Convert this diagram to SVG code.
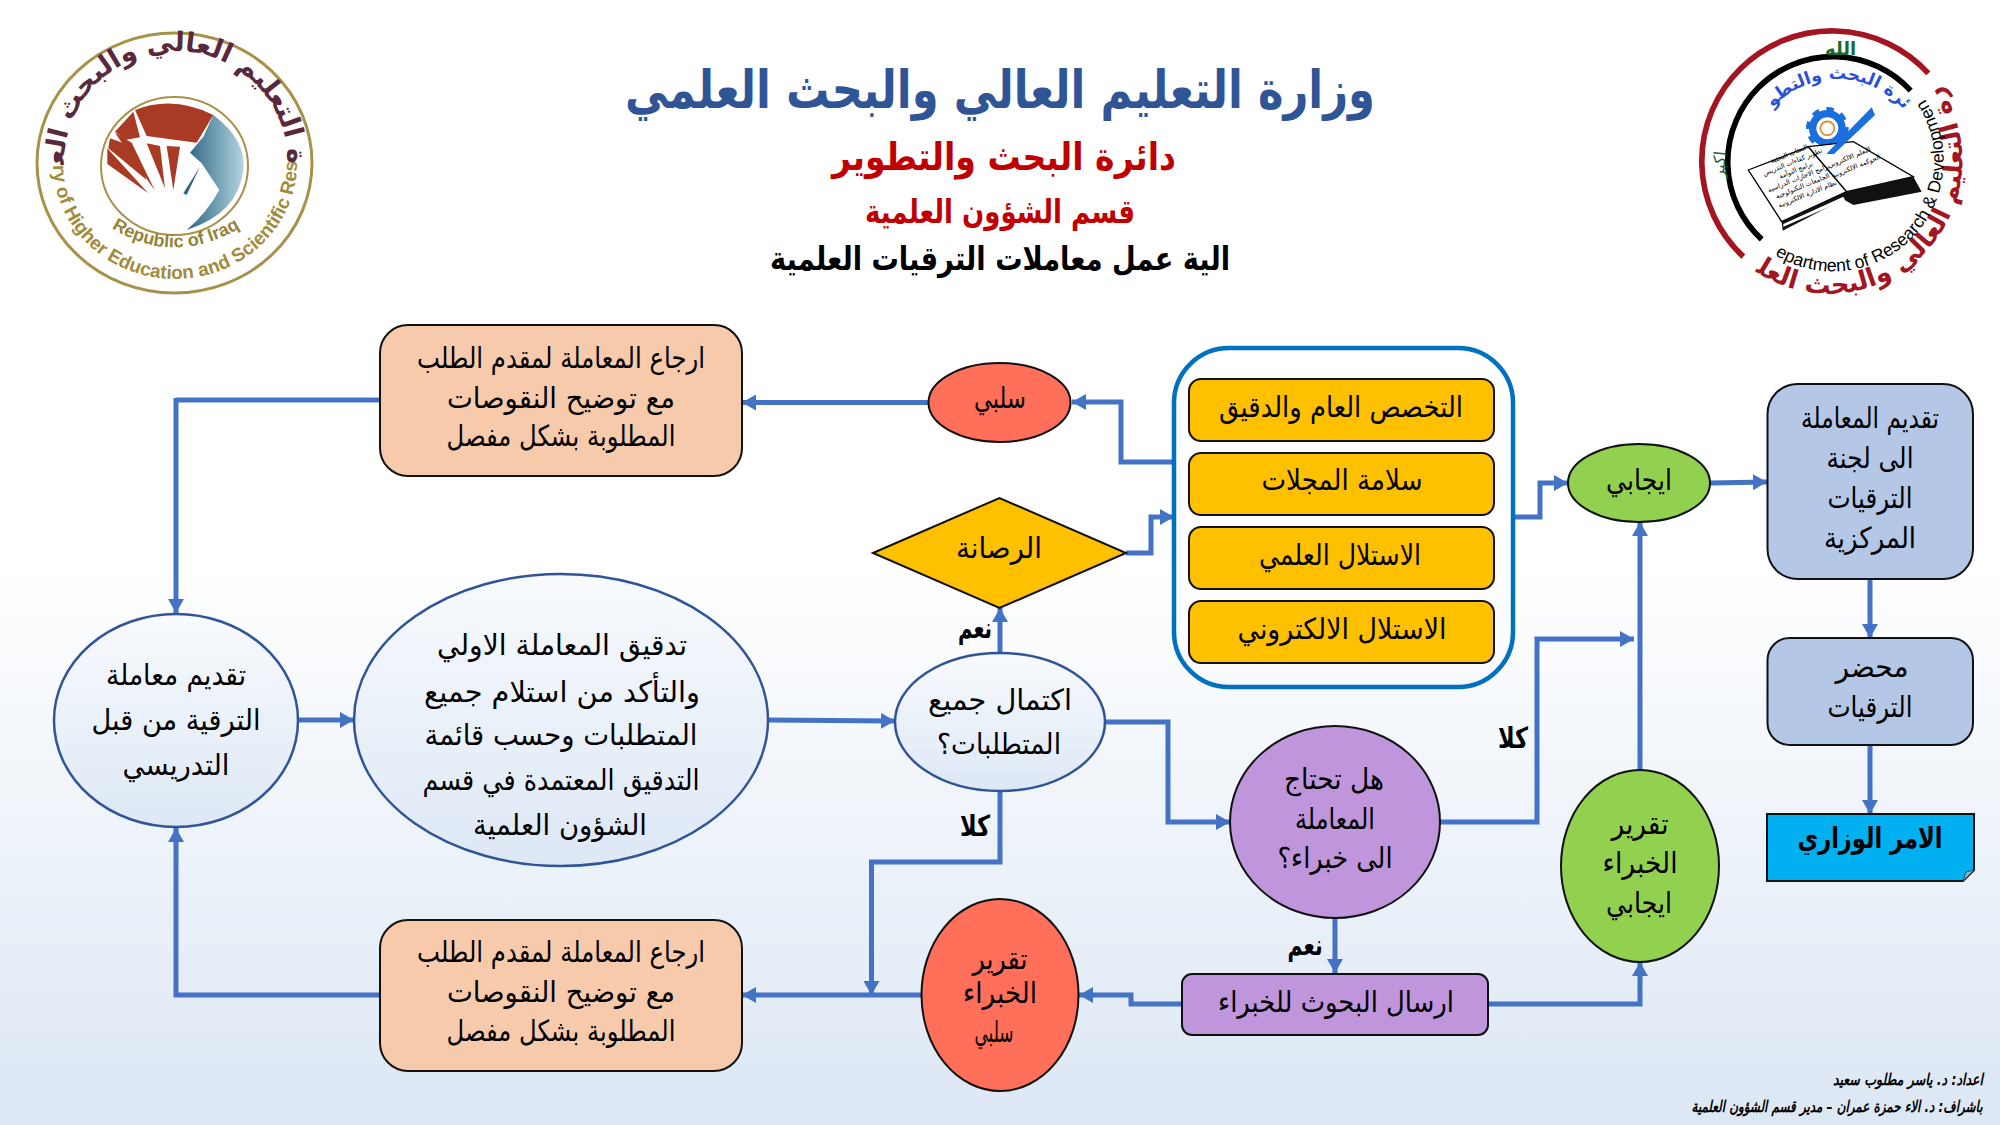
<svg xmlns="http://www.w3.org/2000/svg" width="2000" height="1125" viewBox="0 0 2000 1125">
<defs>
<linearGradient id="bg" x1="0" y1="0" x2="0" y2="1"><stop offset="0" stop-color="#fff"/><stop offset=".5" stop-color="#fff"/><stop offset="1" stop-color="#dce7f4"/></linearGradient>
<linearGradient id="pale" x1="0" y1="0" x2="0" y2="1"><stop offset="0" stop-color="#f8fafd"/><stop offset="1" stop-color="#dde8f5"/></linearGradient>
<linearGradient id="teal" x1="0" y1="0" x2="1" y2="0"><stop offset="0" stop-color="#2c6482"/><stop offset="1" stop-color="#b2d5e0"/></linearGradient>
<marker id="ah" markerUnits="userSpaceOnUse" markerWidth="15" markerHeight="16" refX="14" refY="8" orient="auto"><path d="M0,0L14,8L0,16z" fill="#4472c4"/></marker>
<path id="la1" d="M64,163A112,112 0 0 1 288,163" fill="none"/>
<path id="la2" d="M53,163A122,116 0 0 0 297,163" fill="none"/>
<path id="la3" d="M320,675Q520,810 735,675"/>
<path id="ra1" d="M235,820A400,400 0 0 0 790,275" fill="none"/>
<path id="ra2" d="M270,755A332,332 0 0 0 738,302" fill="none"/>
<path id="ra3" d="M272,330A262,262 0 0 1 672,330" fill="none"/>
</defs>
<style>
text{font-family:"DejaVu Sans","Liberation Sans",sans-serif;text-anchor:middle;direction:rtl;fill:#000}
.b{font-size:29px}
.bb{font-size:29px;font-weight:bold}
.c{fill:none;stroke:#4472c4;stroke-width:5}
.ca{fill:none;stroke:#4472c4;stroke-width:5;marker-end:url(#ah)}
.bk{stroke:#111;stroke-width:2}
.pe{fill:#f7caac}.ye{fill:#ffc000}.pu{fill:#bf95dc}.gr{fill:#92d050}.re{fill:#ff6f59}.bl{fill:#b4c7e7}
.pa{fill:url(#pale);stroke:#2f5597;stroke-width:2.5}
</style>
<rect id="background" width="2000" height="1125" fill="url(#bg)"/>

<g id="logo-ministry">
<ellipse cx="174.5" cy="163" rx="137.5" ry="130" fill="#fff" stroke="#a8924a" stroke-width="3"/>
<ellipse cx="174.5" cy="166" rx="73.5" ry="69" fill="#fff" stroke="#a8924a" stroke-width="2"/>
<g transform="scale(.33333)">
<path d="M405,330Q520,285 640,345L590,428L440,408Z" fill="#a93a24"/>
<path d="M400,335L345,395L375,420L420,412Z" fill="#a93a24"/>
<path d="M322,445L322,492L445,580Z" fill="#a93a24"/>
<path d="M345,398L395,428L465,572Z" fill="#a93a24"/>
<path d="M440,430L480,438L495,565Z" fill="#a93a24"/>
<path d="M500,438L540,440L520,570Z" fill="#a93a24"/>
<path d="M325,445L330,415L400,440L440,540Z" fill="#a93a24"/>
<path d="M640,345Q740,420 730,510Q715,640 560,690Q620,640 658,570L605,490L570,458L610,410Z" fill="url(#teal)"/>
<path d="M600,500L550,580L560,585Z" fill="#2c6482"/>
<text font-size="78" font-weight="bold" style="fill:#59283a"><textPath href="#la1" textLength="690" lengthAdjust="spacingAndGlyphs"/></text>
</g>
<text font-size="27" font-weight="bold" style="fill:#59283a;direction:rtl"><textPath href="#la1" startOffset="50%">وزارة التعليم العالي والبحث العلمي</textPath></text>
<text font-size="19" font-weight="bold" style="fill:#a08c3c;font-family:'Liberation Sans';direction:ltr"><textPath href="#la2" startOffset="50%">Ministry of Higher Education and Scientific Research</textPath></text>
<g transform="scale(.33333)"><text font-size="54" font-weight="bold" style="fill:#96833a;font-family:'Liberation Sans';direction:ltr"><textPath href="#la3" startOffset="50%">Republic of Iraq</textPath></text></g>
</g>

<g id="logo-department" transform="translate(1680 0) scale(.33333)">
<path d="M745,220A391,391 0 1 0 190,770" fill="none" stroke="#a31621" stroke-width="17"/>
<path d="M692,272A316,316 0 1 0 245,718" fill="none" stroke="#000" stroke-width="17"/>
<text x="482" y="165" font-size="54" font-weight="bold" style="fill:#1a6b2e">الله</text>
<text transform="translate(135 495) rotate(-85)" font-size="50" style="fill:#1a6b2e">اكبر</text>
<text font-size="52" font-weight="bold" style="fill:#2a50d8"><textPath href="#ra3" startOffset="50%">دائرة البحث والتطوير</textPath></text>
<text font-size="78" font-weight="bold" style="fill:#a31621"><textPath href="#ra1" startOffset="50%">وزارة التعليم العالي والبحث العلمي</textPath></text>
<text font-size="53" style="font-family:'Liberation Sans';direction:ltr"><textPath href="#ra2" startOffset="50%">Department of Research &amp; Development</textPath></text>
<circle cx="442" cy="385" r="44" fill="none" stroke="#1a6fdc" stroke-width="22"/>
<circle cx="442" cy="385" r="57" fill="none" stroke="#1a6fdc" stroke-width="14" stroke-dasharray="22 22"/>
<circle cx="442" cy="385" r="21" fill="#fff" stroke="#e8802c" stroke-width="5"/>
<path d="M205,510L385,440L500,575L305,665Z" fill="#fff" stroke="#000" stroke-width="4"/>
<path d="M385,440L520,425L700,530L500,575Z" fill="#fff" stroke="#000" stroke-width="4"/>
<path d="M205,510L305,665L308,692L490,598L520,615L725,575L700,530L500,575L305,665Z" fill="#111"/>
<path d="M310,672L490,590L495,600L310,680Z" fill="#fff"/>
<path d="M445,455L575,322L585,345L462,462L440,462Z" fill="#1a6fdc"/>
<g font-size="20">
<text transform="translate(330 468) rotate(-22)">البعثات البحثية</text>
<text transform="translate(340 492) rotate(-22)">تطوير كفاءات التدريس</text>
<text transform="translate(350 516) rotate(-22)">برامج التوأمة</text>
<text transform="translate(358 540) rotate(-22)">برامج الاجازات الدراسية</text>
<text transform="translate(370 564) rotate(-22)">الجامعات التكنولوجية</text>
<text transform="translate(385 588) rotate(-22)">نظام الادارة الالكترونية</text>
<text transform="translate(510 478) rotate(-22)">التعلم الالكتروني</text>
<text transform="translate(530 505) rotate(-22)">الحوكمة الالكترونية</text>
</g>
</g>

<g id="titles">
<text x="1000" y="108" font-size="53" font-weight="bold" style="fill:#2f5597" textLength="750" lengthAdjust="spacingAndGlyphs">وزارة التعليم العالي والبحث العلمي</text>
<text x="1004" y="170" font-size="38" font-weight="bold" style="fill:#c00000" textLength="344" lengthAdjust="spacingAndGlyphs">دائرة البحث والتطوير</text>
<text x="1000" y="223" font-size="33" font-weight="bold" style="fill:#c00000" textLength="270" lengthAdjust="spacingAndGlyphs">قسم الشؤون العلمية</text>
<text x="1000" y="270" font-size="33" font-weight="bold" textLength="460" lengthAdjust="spacingAndGlyphs">الية عمل معاملات الترقيات العلمية</text>
</g>

<g id="connectors">
<path class="c" d="M380,400H176"/><path class="ca" d="M176,398V613"/>
<path class="ca" d="M380,995H176V828"/>
<path class="ca" d="M299,720H354"/>
<path class="ca" d="M768,720L895,721"/>
<path class="ca" d="M1000,652V608"/>
<path class="ca" d="M1105,722H1168V822H1230"/>
<path class="ca" d="M1000,790V862H871.5V995"/>
<path class="ca" d="M922,995H742"/>
<path class="ca" d="M1335,918V973"/>
<path class="ca" d="M1182,1004H1131V995H1079"/>
<path class="ca" d="M1488,1004H1640V962"/>
<path class="ca" d="M1440,822H1537V639H1634"/>
<path class="ca" d="M1640,770V522"/>
<path class="ca" d="M1513,517H1540V483H1568"/>
<path class="ca" d="M1710,483L1767,482"/>
<path class="ca" d="M1870,579V638"/>
<path class="ca" d="M1870,745V814"/>
<path class="ca" d="M928,402.500H742"/>
<path class="ca" d="M1172,462H1121V402H1072"/>
<path class="ca" d="M1126,553H1151V517H1174"/>
</g>

<g id="n-return-top">
<rect class="pe bk" x="380" y="325" width="362" height="151" rx="28"/>
<text class="b" x="561" y="368" textLength="288" lengthAdjust="spacingAndGlyphs">ارجاع المعاملة لمقدم الطلب</text>
<text class="b" x="561" y="408" textLength="228" lengthAdjust="spacingAndGlyphs">مع توضيح النقوصات</text>
<text class="b" x="561" y="446" textLength="229" lengthAdjust="spacingAndGlyphs">المطلوبة بشكل مفصل</text>
</g>
<g id="n-return-bottom">
<rect class="pe bk" x="380" y="920" width="362" height="151" rx="28"/>
<text class="b" x="561" y="962" textLength="288" lengthAdjust="spacingAndGlyphs">ارجاع المعاملة لمقدم الطلب</text>
<text class="b" x="561" y="1002" textLength="228" lengthAdjust="spacingAndGlyphs">مع توضيح النقوصات</text>
<text class="b" x="561" y="1041" textLength="229" lengthAdjust="spacingAndGlyphs">المطلوبة بشكل مفصل</text>
</g>
<g id="n-submit">
<ellipse class="pa" cx="176" cy="720.500" rx="122" ry="106.500"/>
<text class="b" x="176" y="685" textLength="140" lengthAdjust="spacingAndGlyphs">تقديم معاملة</text>
<text class="b" x="176" y="730" textLength="169" lengthAdjust="spacingAndGlyphs">الترقية من قبل</text>
<text class="b" x="176" y="775" textLength="107" lengthAdjust="spacingAndGlyphs">التدريسي</text>
</g>
<g id="n-check">
<ellipse class="pa" cx="561" cy="720" rx="207" ry="146"/>
<text class="b" x="562" y="655" textLength="250" lengthAdjust="spacingAndGlyphs">تدقيق المعاملة الاولي</text>
<text class="b" x="562" y="702" textLength="276" lengthAdjust="spacingAndGlyphs">والتأكد من استلام جميع</text>
<text class="b" x="561" y="745" textLength="273" lengthAdjust="spacingAndGlyphs">المتطلبات وحسب قائمة</text>
<text class="b" x="561" y="790" textLength="277" lengthAdjust="spacingAndGlyphs">التدقيق المعتمدة في قسم</text>
<text class="b" x="560" y="835" textLength="174" lengthAdjust="spacingAndGlyphs">الشؤون العلمية</text>
</g>
<g id="n-complete">
<ellipse class="pa" cx="1000" cy="722" rx="105" ry="69"/>
<text class="b" x="1000" y="710" textLength="144" lengthAdjust="spacingAndGlyphs">اكتمال جميع</text>
<text class="b" x="999" y="754" textLength="124" lengthAdjust="spacingAndGlyphs">المتطلبات؟</text>
</g>
<g id="n-negative">
<ellipse class="re bk" cx="999.500" cy="402.500" rx="71" ry="39.500"/>
<text class="b" x="1000" y="408" textLength="52" lengthAdjust="spacingAndGlyphs">سلبي</text>
</g>
<g id="n-solidity">
<path class="ye bk" d="M873,553L999.500,498L1126,553L999.500,608Z"/>
<text class="b" x="999" y="558" textLength="86" lengthAdjust="spacingAndGlyphs">الرصانة</text>
</g>
<g id="n-criteria">
<rect x="1174" y="348" width="339" height="339" rx="55" fill="none" stroke="#0070c0" stroke-width="4.500"/>
</g>
<g id="n-c1"><rect class="ye bk" x="1189" y="379" width="305" height="62" rx="12"/>
<text class="b" x="1341" y="417" textLength="244" lengthAdjust="spacingAndGlyphs">التخصص العام والدقيق</text></g>
<g id="n-c2"><rect class="ye bk" x="1189" y="453" width="305" height="62" rx="12"/>
<text class="b" x="1342" y="490" textLength="161" lengthAdjust="spacingAndGlyphs">سلامة المجلات</text></g>
<g id="n-c3"><rect class="ye bk" x="1189" y="527" width="305" height="62" rx="12"/>
<text class="b" x="1340" y="565" textLength="162" lengthAdjust="spacingAndGlyphs">الاستلال العلمي</text></g>
<g id="n-c4"><rect class="ye bk" x="1189" y="601" width="305" height="62" rx="12"/>
<text class="b" x="1342" y="639" textLength="209" lengthAdjust="spacingAndGlyphs">الاستلال الالكتروني</text></g>
<g id="n-positive">
<ellipse class="gr bk" cx="1639" cy="483" rx="71" ry="39"/>
<text class="b" x="1639" y="490" textLength="66" lengthAdjust="spacingAndGlyphs">ايجابي</text>
</g>
<g id="n-committee">
<rect class="bl bk" x="1767.500" y="384" width="205.500" height="195" rx="30"/>
<text class="b" x="1870" y="428" textLength="138" lengthAdjust="spacingAndGlyphs">تقديم المعاملة</text>
<text class="b" x="1870" y="468" textLength="87" lengthAdjust="spacingAndGlyphs">الى لجنة</text>
<text class="b" x="1870" y="508" textLength="85" lengthAdjust="spacingAndGlyphs">الترقيات</text>
<text class="b" x="1870" y="548" textLength="92" lengthAdjust="spacingAndGlyphs">المركزية</text>
</g>
<g id="n-minutes">
<rect class="bl bk" x="1767.500" y="638" width="205.500" height="107" rx="22"/>
<text class="b" x="1872" y="677" textLength="73" lengthAdjust="spacingAndGlyphs">محضر</text>
<text class="b" x="1870" y="717" textLength="85" lengthAdjust="spacingAndGlyphs">الترقيات</text>
</g>
<g id="n-order">
<path d="M1767,814H1974V870L1963,881H1767Z" fill="#00b0f0" stroke="#111" stroke-width="2"/>
<path d="M1963,881L1966,872L1974,870Z" fill="#7fb8d4" stroke="#1a4f70" stroke-width="1"/>
<text class="bb" x="1870" y="848" textLength="145" lengthAdjust="spacingAndGlyphs">الامر الوزاري</text>
</g>
<g id="n-experts-q">
<ellipse class="pu bk" cx="1335" cy="822" rx="105" ry="96"/>
<text class="b" x="1334" y="789" textLength="100" lengthAdjust="spacingAndGlyphs">هل تحتاج</text>
<text class="b" x="1335" y="829" textLength="80" lengthAdjust="spacingAndGlyphs">المعاملة</text>
<text class="b" x="1335" y="868" textLength="115" lengthAdjust="spacingAndGlyphs">الى خبراء؟</text>
</g>
<g id="n-send">
<rect class="pu bk" x="1182" y="974" width="306" height="61" rx="10"/>
<text class="b" x="1336" y="1012" textLength="236" lengthAdjust="spacingAndGlyphs">ارسال البحوث للخبراء</text>
</g>
<g id="n-report-neg">
<ellipse class="re bk" cx="1000" cy="995" rx="78.500" ry="96"/>
<text class="b" x="1000" y="969" textLength="55" lengthAdjust="spacingAndGlyphs">تقرير</text>
<text class="b" x="1000" y="1003" textLength="74" lengthAdjust="spacingAndGlyphs">الخبراء</text>
<text class="b" x="994" y="1042" textLength="39" lengthAdjust="spacingAndGlyphs">سلبي</text>
</g>
<g id="n-report-pos">
<ellipse class="gr bk" cx="1640" cy="866" rx="79" ry="96"/>
<text class="b" x="1640" y="834" textLength="57" lengthAdjust="spacingAndGlyphs">تقرير</text>
<text class="b" x="1640" y="873" textLength="75" lengthAdjust="spacingAndGlyphs">الخبراء</text>
<text class="b" x="1639" y="913" textLength="66" lengthAdjust="spacingAndGlyphs">ايجابي</text>
</g>
<g id="labels">
<text class="bb" x="975" y="638" textLength="34" lengthAdjust="spacingAndGlyphs">نعم</text>
<text class="bb" x="975" y="836" textLength="30" lengthAdjust="spacingAndGlyphs">كلا</text>
<text class="bb" x="1305" y="955" textLength="35" lengthAdjust="spacingAndGlyphs">نعم</text>
<text class="bb" x="1513" y="748" textLength="30" lengthAdjust="spacingAndGlyphs">كلا</text>
</g>
<g id="credits" font-weight="bold" font-style="italic" font-size="16">
<text x="1908" y="1085" textLength="150" lengthAdjust="spacingAndGlyphs">اعداد: د. ياسر مطلوب سعيد</text>
<text x="1837" y="1112" textLength="291" lengthAdjust="spacingAndGlyphs">باشراف: د. الاء حمزة عمران – مدير قسم الشؤون العلمية</text>
</g>
</svg>
